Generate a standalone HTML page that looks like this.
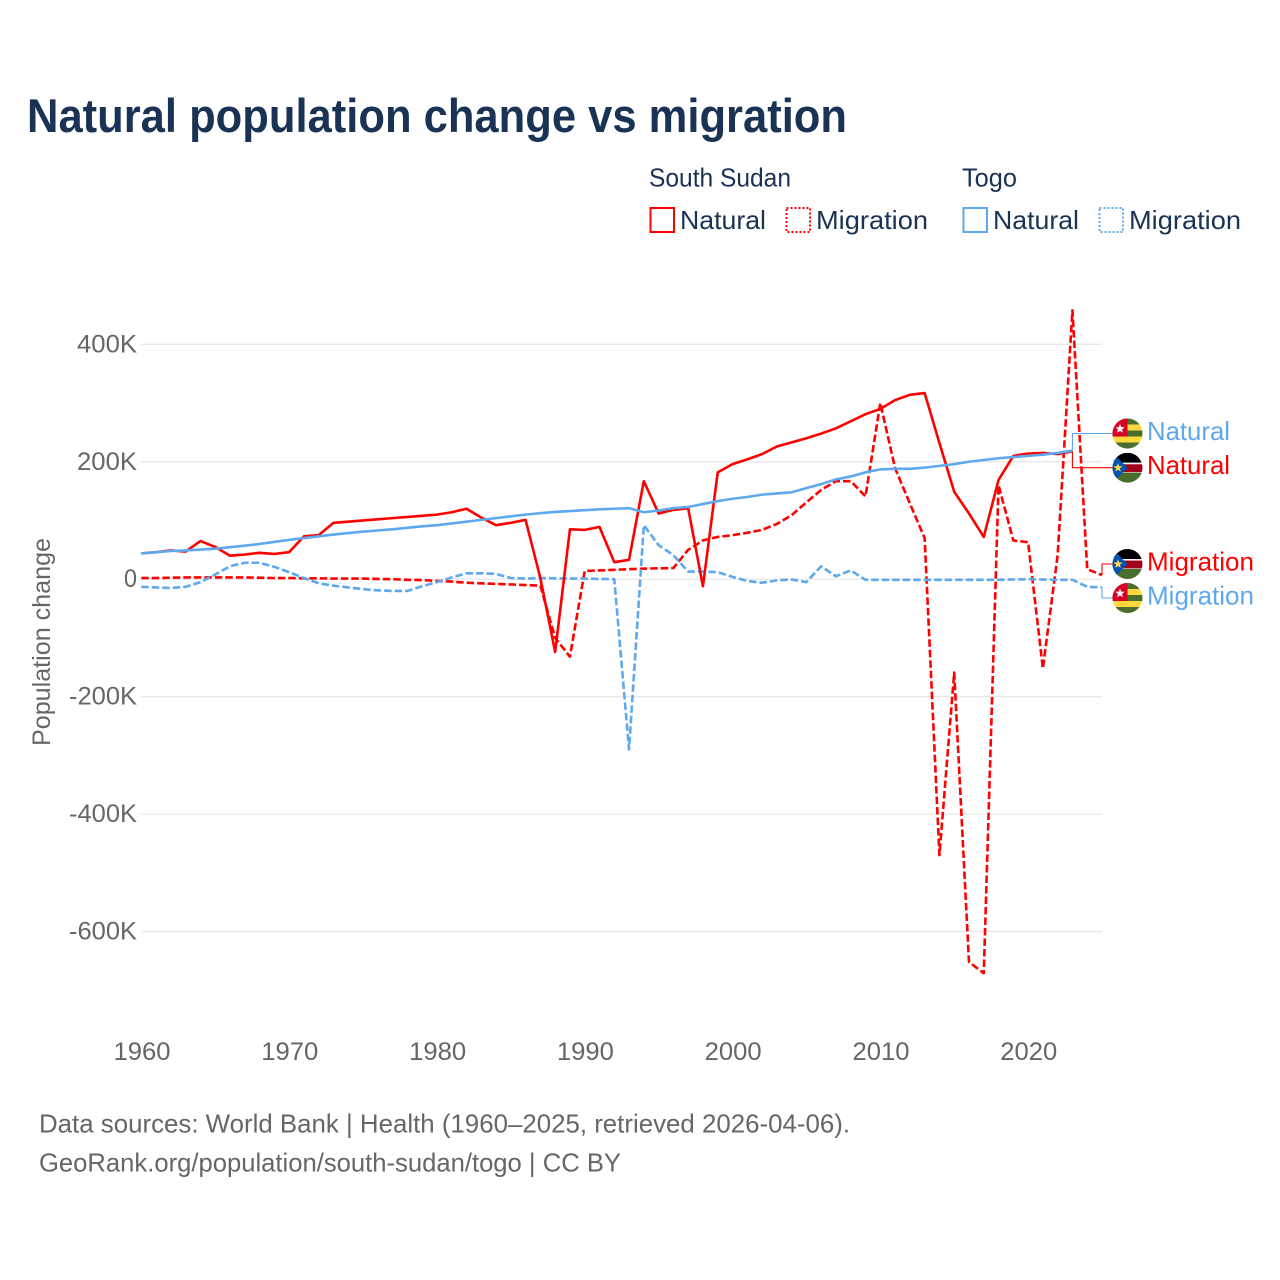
<!DOCTYPE html>
<html lang="en">
<head>
<meta charset="utf-8">
<title>Natural population change vs migration</title>
<style>
html,body{margin:0;padding:0;background:#fff;}
svg{display:block;font-family:"Liberation Sans",sans-serif;}
</style>
</head>
<body>
<svg id="chart" xmlns="http://www.w3.org/2000/svg" width="1280" height="1280" viewBox="0 0 1280 1280">
<defs>
<clipPath id="flag-clip"><circle cx="0" cy="0" r="15"/></clipPath>
<g id="flag-togo">
<g clip-path="url(#flag-clip)">
<rect x="-15" y="-15" width="30" height="30" fill="#ffd83d"/>
<rect x="-15" y="-15" width="30" height="6" fill="#496e2d"/>
<rect x="-15" y="-3" width="30" height="6" fill="#496e2d"/>
<rect x="-15" y="9" width="30" height="6" fill="#496e2d"/>
<rect x="-15" y="-15" width="15" height="18" fill="#d80027"/>
<polygon points="-7.5,-9.5 -6.2,-6.4 -2.9,-6.2 -5.4,-4 -4.6,-0.8 -7.5,-2.5 -10.4,-0.8 -9.6,-4 -12.1,-6.2 -8.8,-6.4" fill="#f0f0f0"/>
</g>
</g>
<g id="flag-south-sudan">
<g clip-path="url(#flag-clip)">
<rect x="-15" y="-15" width="30" height="10" fill="#000"/>
<rect x="-15" y="-5" width="30" height="10" fill="#f0f0f0"/>
<rect x="-15" y="-3.4" width="30" height="7.8" fill="#a2001d"/>
<rect x="-15" y="5" width="30" height="10" fill="#496e2d"/>
<polygon points="-15,-15 0,0 -15,15" fill="#0052b4"/>
<polygon points="-9.5,-4.6 -8.3,-1.6 -5,-1.4 -7.6,0.7 -6.7,3.9 -9.5,2.1 -12.3,3.9 -11.4,0.7 -14,-1.4 -10.7,-1.6" fill="#ffda44"/>
</g>
</g>
</defs>
<rect x="0" y="0" width="1280" height="1280" fill="#fff"/>

<text x="27" y="132" font-size="47" font-weight="700" fill="#1a3354" textLength="820" lengthAdjust="spacingAndGlyphs">Natural population change vs migration</text>

<g font-size="26" fill="#1a3354">
<text x="649" y="186.5" textLength="142" lengthAdjust="spacingAndGlyphs">South Sudan</text>
<text x="962" y="186.5" textLength="55" lengthAdjust="spacingAndGlyphs">Togo</text>
<rect x="650.5" y="208" width="23.5" height="24" fill="none" stroke="#ff0000" stroke-width="2"/>
<text x="680" y="229" textLength="86" lengthAdjust="spacingAndGlyphs">Natural</text>
<rect x="786.5" y="208" width="23.5" height="24" fill="none" stroke="#ff0000" stroke-width="2" stroke-dasharray="2 2"/>
<text x="816" y="229" textLength="112" lengthAdjust="spacingAndGlyphs">Migration</text>
<rect x="963.5" y="208" width="23.5" height="24" fill="none" stroke="#5ea8ee" stroke-width="2"/>
<text x="993" y="229" textLength="86" lengthAdjust="spacingAndGlyphs">Natural</text>
<rect x="1099.5" y="208" width="23.5" height="24" fill="none" stroke="#5ea8ee" stroke-width="2" stroke-dasharray="2 2"/>
<text x="1129" y="229" textLength="112" lengthAdjust="spacingAndGlyphs">Migration</text>
</g>

<g id="grid"></g>
<g id="yticks" font-size="25" fill="#666666" text-anchor="end"></g>
<g id="xticks" font-size="25" fill="#666666" text-anchor="middle"></g>
<text transform="translate(50,746) rotate(-90)" font-size="25" fill="#666666" textLength="208" lengthAdjust="spacingAndGlyphs">Population change</text>

<g id="series" fill="none" stroke-linejoin="round"></g>
<g id="end-labels"></g>

<g font-size="26" fill="#666666">
<text x="39" y="1132.5" textLength="811" lengthAdjust="spacingAndGlyphs">Data sources: World Bank | Health (1960–2025, retrieved 2026-04-06).</text>
<text x="39" y="1171.5" textLength="582" lengthAdjust="spacingAndGlyphs">GeoRank.org/population/south-sudan/togo | CC BY</text>
</g>
</svg>
<script>
const startYear = 1960;
const yTickValues = [400, 200, 0, -200, -400, -600];
const yTickLabels = ["400K", "200K", "0", "-200K", "-400K", "-600K"];
const xTickYears = [1960, 1970, 1980, 1990, 2000, 2010, 2020];
const xTickLabels = ["1960", "1970", "1980", "1990", "2000", "2010", "2020"];

// Values in thousands, one per year from 1960.
const southSudanNatural = [44, 46, 49, 47, 65, 55, 40, 42, 45, 43, 46, 73, 75, 96, 98, 100, 102, 104, 106, 108, 110, 114, 120, 105, 92, 96, 101, 2, -124, 85, 84, 89, 29, 33, 167, 112, 118, 121, -12, 182, 196, 204, 213, 226, 233, 240, 248, 257, 269, 281, 290, 305, 314, 317, 232, 149, 112, 72, 169, 210, 214, 215, 213, 218];
const southSudanMigration = [2, 2, 2.5, 3, 3, 3, 3, 3, 2.5, 2, 2, 1.5, 1.5, 1, 1, 1, 0.5, 0, -1, -1.5, -3, -4, -6, -7, -8, -9, -10, -11, -100, -132, 14, 15, 16, 17, 18, 18.5, 19, 50, 66, 72, 75, 79, 84, 94, 109, 131, 152, 167, 167, 141, 300, 189, 129, 70, -470, -159, -652, -671, 160, 66, 63, -152, 41, 458, 17, 7];
const togoNatural = [44, 46, 48, 49, 50.5, 52, 54.5, 57, 60, 63.5, 67, 70, 73, 76, 78.5, 81, 83, 85, 87.5, 90, 92, 95, 98, 101, 104, 107, 110, 112.5, 114.5, 116, 117.5, 119, 120, 121, 114, 117, 121, 123, 128, 133, 137, 140, 144, 146, 148, 155, 162, 170, 175, 182, 187, 188, 188, 190, 193, 196, 200, 203, 206, 208, 210, 212, 215, 219];
const togoMigration = [-13, -14, -15, -13, -5, 8, 22, 28, 28, 21, 12, 2, -7, -11, -14, -17, -19, -20, -20, -12, -5, 3, 10, 10, 9, 2, 1, 2, 1.5, 1, 1, 0.5, 0, -290, 92, 58, 41, 13, 13, 12, 4, -3, -6, -2, -0.5, -5, 22, 5, 15, -1, -1, -1, -1, -1, -1, -1, -1, -1, -1, -0.5, 0, -0.5, -1, -1, -13, -14];

const labelNames = ["Natural", "Natural", "Migration", "Migration"];

const xScale = (year) => 141.3 + (year - startYear) * 14.78;
const yScale = (value) => 579.2 - value * 0.5872;
const NS = "http://www.w3.org/2000/svg";
const RED = "#ff0000";
const BLUE = "#5ea8ee";

function make(tag, attrs, parent) {
  const el = document.createElementNS(NS, tag);
  for (const k in attrs) el.setAttribute(k, attrs[k]);
  parent.appendChild(el);
  return el;
}

const gridGroup = document.getElementById("grid");
const yGroup = document.getElementById("yticks");
yTickValues.forEach((v, i) => {
  const line = make("line", {x1: xScale(1960), x2: xScale(2025), y1: yScale(v), y2: yScale(v), stroke: "#e6e6e6", "stroke-width": 1.2}, gridGroup);
  
  
  const t = make("text", {x: 137, y: yScale(v) + 8}, yGroup);
  
  
  t.textContent = yTickLabels[i];
  t.setAttribute("textLength", yTickLabels[i].length === 1 ? 13 : (yTickLabels[i].length === 4 ? 60 : 68));
  t.setAttribute("lengthAdjust", "spacingAndGlyphs");
});

const xGroup = document.getElementById("xticks");
xTickYears.forEach((yr, i) => {
  const t = make("text", {x: xScale(yr) + 0.7, y: 1060}, xGroup);
  
  
  t.textContent = xTickLabels[i];
  t.setAttribute("textLength", 57);
  t.setAttribute("lengthAdjust", "spacingAndGlyphs");
});

function pathFrom(values) {
  return values.map((v, i) => (i ? "L" : "M") + xScale(startYear + i).toFixed(2) + " " + yScale(v).toFixed(2)).join(" ");
}

const seriesGroup = document.getElementById("series");

const lineSsMigration = make("path", {d: pathFrom(southSudanMigration), stroke: RED, "stroke-width": 2.6, "stroke-dasharray": "7.5 3"}, seriesGroup);



const lineTogoMigration = make("path", {d: pathFrom(togoMigration), stroke: BLUE, "stroke-width": 2.6, "stroke-dasharray": "7.5 3"}, seriesGroup);



const lineSsNatural = make("path", {d: pathFrom(southSudanNatural), stroke: RED, "stroke-width": 2.6}, seriesGroup);



const lineTogoNatural = make("path", {d: pathFrom(togoNatural), stroke: BLUE, "stroke-width": 2.6}, seriesGroup);



const labelsGroup = document.getElementById("end-labels");
function endLabel(values, color, flag, labelY, text, textWidth) {
  const lastIndex = values.length - 1;
  const px = xScale(startYear + lastIndex);
  const py = yScale(values[lastIndex]);
  const g = make("g", {}, labelsGroup);
  
  
  const conn = make("path", {d: `M${px} ${py} L${px} ${labelY} L1113 ${labelY}`, fill: "none", stroke: color, "stroke-width": 1.1}, g);
  
  
  const f = make("use", {href: "#" + flag, x: 1127.5, y: labelY}, g);
  
  
  const t = make("text", {x: 1147, y: labelY + 6.5, "font-size": 26, fill: color, textLength: textWidth, lengthAdjust: "spacingAndGlyphs"}, g);
  
  
  t.textContent = text;
}
endLabel(togoNatural, BLUE, "flag-togo", 433.5, labelNames[0], 83);
endLabel(southSudanNatural, RED, "flag-south-sudan", 467.7, labelNames[1], 83);
endLabel(southSudanMigration, RED, "flag-south-sudan", 564, labelNames[2], 107);
endLabel(togoMigration, BLUE, "flag-togo", 598, labelNames[3], 107);
</script>
</body>
</html>
